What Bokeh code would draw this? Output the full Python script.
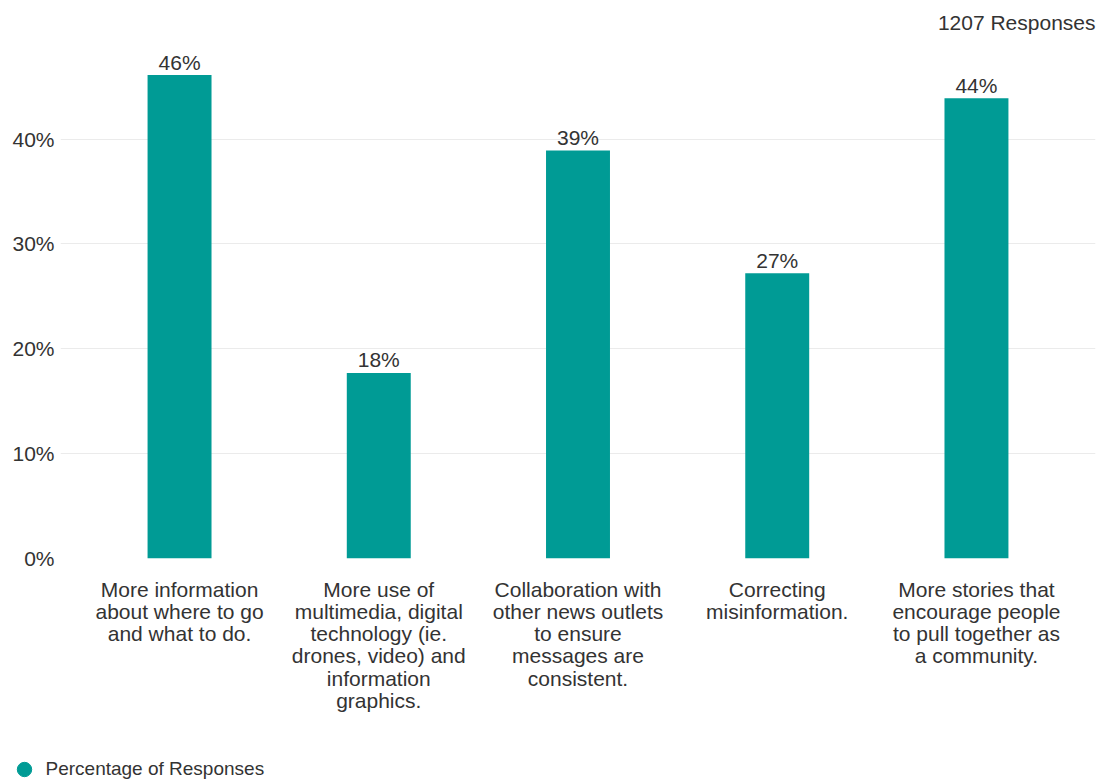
from bokeh.plotting import figure
from bokeh.layouts import column
from bokeh.models import FactorRange, Range1d, FixedTicker, Legend, LegendItem, ColumnDataSource
from bokeh.embed import file_html
from bokeh.resources import INLINE
from bokeh.core.properties import value

categories = [
    "More information\nabout where to go\nand what to do.",
    "More use of\nmultimedia, digital\ntechnology (ie.\ndrones, video) and\ninformation\ngraphics.",
    "Collaboration with\nother news outlets\nto ensure\nmessages are\nconsistent.",
    "Correcting\nmisinformation.",
    "More stories that\nencourage people\nto pull together as\na community.",
]
percentages = [46.1, 17.7, 38.9, 27.2, 43.9]
bar_labels = ["46%", "18%", "39%", "27%", "44%"]
y_ticks = [0, 10, 20, 30, 40]
y_tick_labels = ["0%", "10%", "20%", "30%", "40%"]
series_name = "Percentage of Responses"
responses_note = "1207 Responses"

TEAL = "#009b95"
TXT = "#333333"
FONT = "Liberation Sans"

p = figure(
    width=1104, height=731,
    x_range=FactorRange(factors=categories, range_padding=0.039, range_padding_units="percent"),
    y_range=Range1d(0, 49.4),
    output_backend="svg", toolbar_location=None,
    min_border_left=60, min_border_right=9, min_border_top=40, min_border_bottom=173,
)
p.frame_align = False
p.outline_line_color = None
p.background_fill_color = "white"

src = ColumnDataSource(dict(cat=categories, val=percentages, lab=bar_labels))
p.vbar(x="cat", top="val", width=0.321, source=src, color=TEAL, line_color=None)
p.text(x="cat", y="val", text="lab", source=src, text_align="center", text_baseline="middle",
       y_offset=-13, text_font=value(FONT), text_font_size="21px", text_color=TXT)

# axes
p.yaxis.ticker = FixedTicker(ticks=y_ticks)
p.yaxis.major_label_overrides = {t: l for t, l in zip(y_ticks, y_tick_labels)}
p.yaxis.axis_line_color = None
p.yaxis.major_tick_line_color = None
p.yaxis.major_tick_out = 0
p.yaxis.major_tick_in = 0
p.yaxis.minor_tick_line_color = None
p.yaxis.major_label_standoff = 6
p.yaxis.major_label_text_font = FONT
p.yaxis.major_label_text_font_size = "21px"
p.yaxis.major_label_text_color = TXT

p.xaxis.axis_line_color = None
p.xaxis.major_tick_line_color = None
p.xaxis.major_tick_out = 0
p.xaxis.major_tick_in = 0
p.xaxis.major_label_standoff = 19
p.xaxis.major_label_text_font = FONT
p.xaxis.major_label_text_font_size = "21px"
p.xaxis.major_label_text_color = TXT
p.xaxis.major_label_text_line_height = 0.97

p.xgrid.grid_line_color = None
p.ygrid.grid_line_color = "#ebebeb"
p.ygrid.grid_line_width = 1

# title at top-right
p.title.text = responses_note
p.title.align = "right"
p.title.text_font = FONT
p.title.text_font_style = "normal"
p.title.text_font_size = "21px"
p.title.text_color = TXT
p.title.standoff = 13

# legend strip below the chart
lg = figure(width=1104, height=50, x_range=Range1d(0, 1), y_range=Range1d(0, 1),
            x_axis_type=None, y_axis_type=None, output_backend="svg", toolbar_location=None,
            min_border=0, min_border_left=0, min_border_right=0, min_border_top=0, min_border_bottom=0)
lg.frame_align = False
lg.outline_line_color = None
lg.xgrid.visible = False
lg.ygrid.visible = False
dummy = lg.scatter(x=[float("nan")], y=[float("nan")], size=15, color=TEAL, marker="circle")
legend = Legend(
    items=[LegendItem(label=series_name, renderers=[dummy])],
    location=(5.5, -6), orientation="horizontal",
    border_line_color=None, background_fill_alpha=0,
    padding=0, margin=0, glyph_width=36, glyph_height=36, label_standoff=4,
    label_text_font=FONT, label_text_font_size="19px", label_text_color=TXT,
)
lg.add_layout(legend)

layout = column(p, lg, spacing=0)
open("out.html", "w").write(file_html(layout, INLINE))
